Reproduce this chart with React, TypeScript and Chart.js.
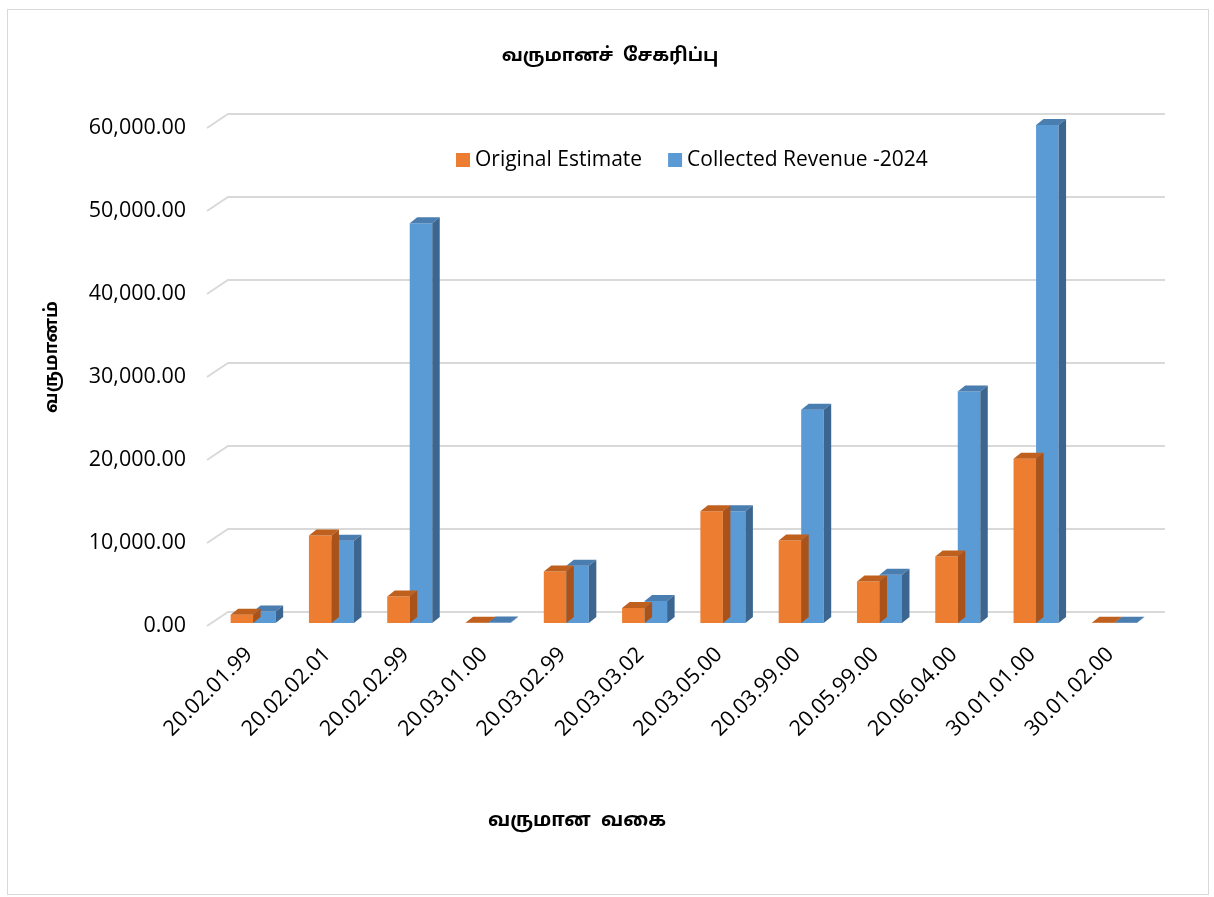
import React, { useEffect, useRef } from "react";
import { Chart, registerables } from "chart.js";

Chart.register(...registerables);

// Revenue heads (category codes)
const categories = [
  "20.02.01.99",
  "20.02.02.01",
  "20.02.02.99",
  "20.03.01.00",
  "20.03.02.99",
  "20.03.03.02",
  "20.03.05.00",
  "20.03.99.00",
  "20.05.99.00",
  "20.06.04.00",
  "30.01.01.00",
  "30.01.02.00",
];

const seriesNames = ["Original Estimate", "Collected Revenue -2024"];

const originalEstimate = [1000, 10550, 3200, 40, 6200, 1800, 13450, 9950, 5000, 8000, 19800, 30];
const collectedRevenue2024 = [1400, 9900, 48150, 60, 6900, 2650, 13450, 25700, 5800, 27900, 60000, 20];

const yTicks = [0, 10000, 20000, 30000, 40000, 50000, 60000];

const chartTitle = "வருமானச்  சேகரிப்பு";
const xAxisTitle = "வருமான  வகை";
const yAxisTitle = "வருமானம்";

const LATIN_FONT = "'Open Sans', 'Noto Sans', sans-serif";
const TAMIL_FONT = "'Noto Sans Tamil', 'Lohit Tamil', 'Noto Sans', sans-serif";

const FRONT = ["#ED7D31", "#5B9BD5"];
const TOP = ["#C0601F", "#4A7DB0"];
const SIDE = ["#A9531A", "#3C6690"];

const DEPTH_X = 7.5;
const DEPTH_Y = 6;

// Back-wall grid with a slanted floor edge on the left
const wallGrid = {
  id: "wallGrid",
  beforeDatasetsDraw(chart: any) {
    const { ctx, chartArea, scales } = chart;
    const y = scales.y;
    ctx.save();
    ctx.strokeStyle = "#D9D9D9";
    ctx.lineWidth = 2;
    yTicks.forEach((v) => {
      const py = y.getPixelForValue(v);
      const backY = py - 11;
      ctx.beginPath();
      ctx.moveTo(chartArea.left - 7, py + 3);
      ctx.lineTo(chartArea.left + 14, backY);
      ctx.lineTo(chartArea.right + 11.5, backY);
      ctx.stroke();
    });
    ctx.restore();
  },
};

// Top and side faces that give each column its depth
const columnDepth = {
  id: "columnDepth",
  afterDatasetDraw(chart: any, args: any) {
    const { ctx } = chart;
    const idx = args.index;
    const meta = chart.getDatasetMeta(idx);
    ctx.save();
    meta.data.forEach((bar: any) => {
      const { x, y, base, width } = bar.getProps(["x", "y", "base", "width"], true);
      const l = x - width / 2;
      const r = x + width / 2;
      ctx.fillStyle = TOP[idx];
      ctx.beginPath();
      ctx.moveTo(l, y);
      ctx.lineTo(l + DEPTH_X, y - DEPTH_Y);
      ctx.lineTo(r + DEPTH_X, y - DEPTH_Y);
      ctx.lineTo(r, y);
      ctx.closePath();
      ctx.fill();
      ctx.fillStyle = SIDE[idx];
      ctx.beginPath();
      ctx.moveTo(r, y);
      ctx.lineTo(r + DEPTH_X, y - DEPTH_Y);
      ctx.lineTo(r + DEPTH_X, base - DEPTH_Y);
      ctx.lineTo(r, base);
      ctx.closePath();
      ctx.fill();
    });
    ctx.restore();
  },
};

// Frame, titles and legend
const decorations = {
  id: "decorations",
  afterDraw(chart: any) {
    const { ctx } = chart;
    ctx.save();
    ctx.strokeStyle = "#D9D9D9";
    ctx.lineWidth = 1;
    ctx.strokeRect(7.5, 9.5, 1201, 885);

    ctx.fillStyle = "#000";
    ctx.textAlign = "center";
    ctx.textBaseline = "middle";
    ctx.font = `bold 18.5px ${TAMIL_FONT}`;
    ctx.fillText(chartTitle, 610, 57);
    ctx.font = `bold 19.5px ${TAMIL_FONT}`;
    ctx.fillText(xAxisTitle, 577, 822);
    ctx.font = `bold 18px ${TAMIL_FONT}`;
    ctx.save();
    ctx.translate(53, 357);
    ctx.rotate(-Math.PI / 2);
    ctx.fillText(yAxisTitle, 0, 0);
    ctx.restore();

    // legend
    ctx.font = `21px ${LATIN_FONT}`;
    ctx.textAlign = "left";
    let lx = 456;
    const ly = 160;
    chart.data.datasets.forEach((ds: any, i: number) => {
      ctx.fillStyle = FRONT[i];
      ctx.fillRect(lx, ly - 7, 14, 14);
      ctx.fillStyle = "#000";
      ctx.fillText(ds.label, lx + 19, ly);
      lx += 19 + ctx.measureText(ds.label).width + 26;
    });
    ctx.restore();
  },
};

export default function App() {
  const canvasRef = useRef<HTMLCanvasElement | null>(null);

  useEffect(() => {
    document.body.style.margin = "0";
    const canvas = canvasRef.current;
    if (!canvas) return;
    const chart = new Chart(canvas, {
      type: "bar",
      data: {
        labels: categories,
        datasets: [
          {
            label: seriesNames[0],
            data: originalEstimate,
            backgroundColor: FRONT[0],
            categoryPercentage: 0.575,
            barPercentage: 1,
          },
          {
            label: seriesNames[1],
            data: collectedRevenue2024,
            backgroundColor: FRONT[1],
            categoryPercentage: 0.575,
            barPercentage: 1,
          },
        ],
      },
      options: {
        animation: false,
        responsive: false,
        devicePixelRatio: 1,
        layout: { padding: { left: 0, right: 60.5, top: 125, bottom: 104 } },
        plugins: {
          legend: { display: false },
          title: { display: false },
          tooltip: { enabled: false },
        },
        scales: {
          x: {
            offset: true,
            grid: { display: false, drawTicks: false },
            border: { display: false },
            ticks: {
              autoSkip: false,
              minRotation: 45,
              maxRotation: 45,
              padding: 19,
              labelOffset: -4,
              color: "#000",
              font: { family: LATIN_FONT, size: 21.5 },
            },
            afterFit: (s: any) => {
              s.height = 170;
            },
          },
          y: {
            min: 0,
            max: 60000,
            grid: { display: false, drawTicks: false },
            border: { display: false },
            afterBuildTicks: (s: any) => {
              s.ticks = yTicks.map((v) => ({ value: v }));
            },
            ticks: {
              padding: 28,
              labelOffset: 3,
              color: "#000",
              font: { family: LATIN_FONT, size: 21.5 },
              callback: (v: any) =>
                Number(v).toLocaleString("en-US", {
                  minimumFractionDigits: 2,
                  maximumFractionDigits: 2,
                }),
            },
            afterFit: (s: any) => {
              s.width = 214;
            },
          },
        },
      },
      plugins: [wallGrid, columnDepth, decorations],
    });
    return () => chart.destroy();
  }, []);

  return (
    <div style={{ width: 1214, height: 897, background: "#fff" }}>
      <canvas ref={canvasRef} width={1214} height={897} style={{ display: "block" }} />
    </div>
  );
}
